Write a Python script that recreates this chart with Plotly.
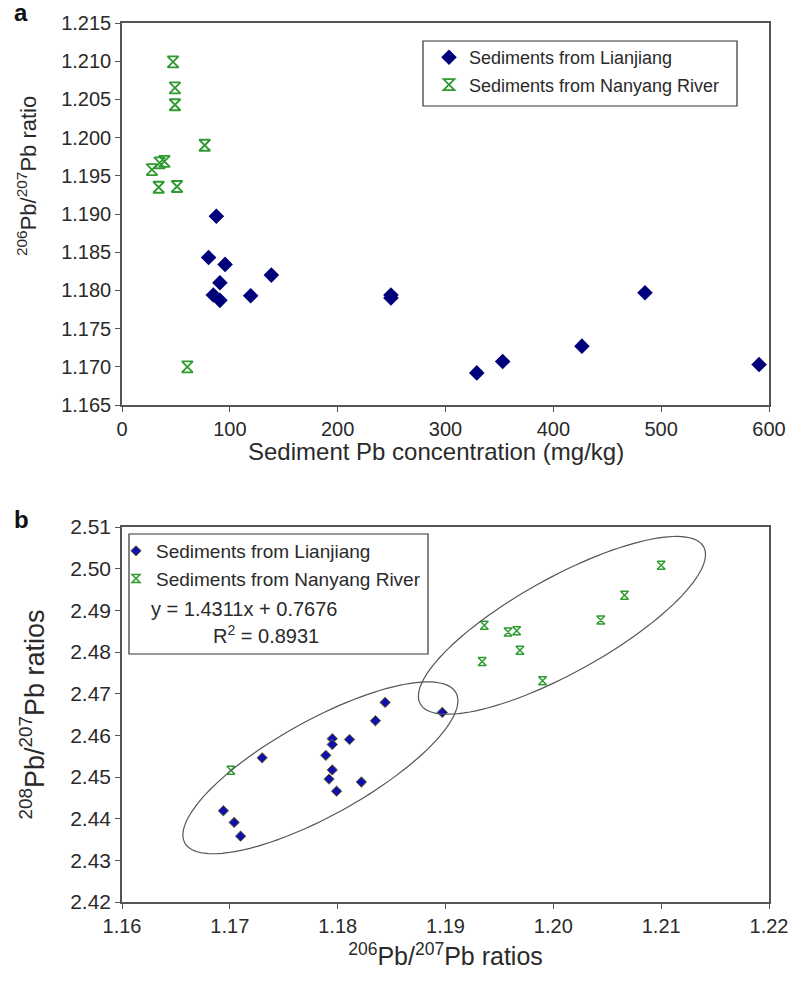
import numpy as np
import plotly.graph_objects as go

# ---------------- Panel a data ----------------
lj_pb = [87.5, 80.3, 95.6, 138.5, 90.8, 84.7, 90.8, 119.3, 249.4, 249.4, 485.0, 426.5, 353.0, 329.0, 590.8]
lj_r206_a = [1.1897, 1.1843, 1.1834, 1.1820, 1.1810, 1.1794, 1.1787, 1.1793, 1.1794, 1.1790,
             1.1797, 1.1727, 1.1707, 1.1692, 1.1703]
ny_pb = [47.3, 49.1, 49.1, 76.7, 27.8, 34.9, 39.3, 34.0, 51.0, 60.6]
ny_r206_a = [1.2099, 1.2065, 1.2043, 1.1990, 1.1958, 1.1967, 1.1969, 1.1935, 1.1936, 1.1700]

# ---------------- Panel b data ----------------
lj_r206_b = [1.1694, 1.1704, 1.1710, 1.1730, 1.1789, 1.1795, 1.1795, 1.1795, 1.1792, 1.1799,
             1.1811, 1.1822, 1.1835, 1.1844, 1.1897]
lj_r208_b = [2.4419, 2.4391, 2.4358, 2.4546, 2.4552, 2.4592, 2.4578, 2.4517, 2.4495, 2.4466,
             2.4590, 2.4488, 2.4635, 2.4679, 2.4655]
ny_r206_b = [1.2100, 1.2066, 1.2044, 1.1936, 1.1958, 1.1966, 1.1969, 1.1934, 1.1990, 1.1701]
ny_r208_b = [2.5008, 2.4936, 2.4877, 2.4864, 2.4848, 2.4851, 2.4804, 2.4777, 2.4731, 2.4516]

series_names = ["Sediments from Lianjiang", "Sediments from Nanyang River"]
equation_text = ["y = 1.4311x + 0.7676", "R<sup>2</sup> = 0.8931"]
axis_titles = ["Sediment Pb concentration (mg/kg)", "<sup>206</sup>Pb/<sup>207</sup>Pb ratio",
               "<sup>206</sup>Pb/<sup>207</sup>Pb ratios", "<sup>208</sup>Pb/<sup>207</sup>Pb ratios"]

# ellipse groups: centre (x, y) in data units, semi-major axis in px
ellipse_centres = [(1.1784, 2.4522), (1.2008, 2.4864)]
ellipse_major_px = [155.0, 162.0]

FONT = "Liberation Sans, Arial, sans-serif"
NAVY = "#00007a"
GREEN = "#2f9a2f"
AXC = "#555555"
TXT = "#2a2a2a"

W, H = 788, 983
ML, MR, MT, MB = 122, 19, 23, 81
plot_w = W - ML - MR
plot_h = H - MT - MB
a_top, a_bot = 23, 405
b_top, b_bot = 527, 902


def pfrac(ypix):
    return (H - MB - ypix) / plot_h


def xfrac(xpix):
    return (xpix - ML) / plot_w


fig = go.Figure()

fig.add_trace(go.Scatter(x=lj_pb, y=lj_r206_a, mode="markers", name=series_names[0],
                         marker=dict(symbol="diamond", size=12, color=NAVY),
                         xaxis="x", yaxis="y", legend="legend", legendgroup="a1"))
fig.add_trace(go.Scatter(x=ny_pb, y=ny_r206_a, mode="markers", name=series_names[1],
                         marker=dict(symbol="hourglass-open", size=11, color=GREEN,
                                     line=dict(width=1.8, color=GREEN)),
                         xaxis="x", yaxis="y", legend="legend", legendgroup="a2"))

fig.add_trace(go.Scatter(x=lj_r206_b, y=lj_r208_b, mode="markers", name=series_names[0],
                         marker=dict(symbol="diamond", size=8, color="#1010b0",
                                     line=dict(width=1, color="#6a6a20")),
                         xaxis="x2", yaxis="y2", legend="legend2", legendgroup="b1"))
fig.add_trace(go.Scatter(x=ny_r206_b, y=ny_r208_b, mode="markers", name=series_names[1],
                         marker=dict(symbol="hourglass-open", size=8, color=GREEN,
                                     line=dict(width=1.5, color=GREEN)),
                         xaxis="x2", yaxis="y2", legend="legend2", legendgroup="b2"))

axis_common = dict(showline=True, linecolor=AXC, linewidth=1.5, mirror=True, ticks="outside",
                   ticklen=5, tickcolor=AXC, showgrid=False, zeroline=False, automargin=False,
                   ticklabeloverflow="allow")

xr_b = [1.16, 1.22]
yr_b = [2.42, 2.51]

fig.update_layout(
    width=W, height=H, margin=dict(l=ML, r=MR, t=MT, b=MB),
    paper_bgcolor="white", plot_bgcolor="white",
    font=dict(family=FONT, color=TXT),
    showlegend=True,
    xaxis=dict(axis_common, range=[0, 600], dtick=100, anchor="y",
               tickfont=dict(family=FONT, size=20, color=TXT)),
    yaxis=dict(axis_common, range=[1.165, 1.215], dtick=0.005, tickformat=".3f", anchor="x",
               domain=[pfrac(a_bot), pfrac(a_top)],
               tickfont=dict(family=FONT, size=20, color=TXT)),
    xaxis2=dict(axis_common, range=xr_b, dtick=0.01, tickformat=".2f", anchor="y2",
                tickfont=dict(family=FONT, size=20, color=TXT),
                title=dict(text=axis_titles[2], font=dict(size=25), standoff=12)),
    yaxis2=dict(axis_common, range=yr_b, dtick=0.01, tickformat=".2f", anchor="x2",
                domain=[pfrac(b_bot), pfrac(b_top)],
                tickfont=dict(family=FONT, size=21, color=TXT),
                title=dict(text=axis_titles[3], font=dict(size=27), standoff=18)),
    legend=dict(x=xfrac(429), y=pfrac(39), xanchor="left", yanchor="top",
                bgcolor="rgba(0,0,0,0)", borderwidth=0, font=dict(size=18, family=FONT, color=TXT),
                traceorder="grouped", tracegroupgap=1),
    legend2=dict(x=xfrac(116), y=pfrac(532), xanchor="left", yanchor="top",
                 bgcolor="rgba(0,0,0,0)", borderwidth=0, font=dict(size=19, family=FONT, color=TXT),
                 traceorder="grouped", tracegroupgap=0),
)

shapes = []
# legend boxes
shapes.append(dict(type="rect", xref="paper", yref="paper",
                   x0=xfrac(423), x1=xfrac(737), y0=pfrac(106), y1=pfrac(41),
                   line=dict(color="#333", width=1.2), fillcolor="rgba(0,0,0,0)"))
shapes.append(dict(type="rect", xref="paper", yref="paper",
                   x0=xfrac(129), x1=xfrac(428), y0=pfrac(654), y1=pfrac(534),
                   line=dict(color="#333", width=1.2), fillcolor="rgba(0,0,0,0)"))

# ellipses (rotated, defined in pixel units)
px_per_x = plot_w / (xr_b[1] - xr_b[0])
px_per_y = (b_bot - b_top) / (yr_b[1] - yr_b[0])
b_px, ang = 47.6, np.deg2rad(29.0)
t = np.linspace(0, 2 * np.pi, 120)
for (cx, cy), a_px in zip(ellipse_centres, ellipse_major_px):
    ex = a_px * np.cos(t) * np.cos(ang) - b_px * np.sin(t) * np.sin(ang)
    ey = a_px * np.cos(t) * np.sin(ang) + b_px * np.sin(t) * np.cos(ang)
    xs = cx + ex / px_per_x
    ys = cy + ey / px_per_y
    path = "M " + " L ".join(f"{x:.6f},{y:.6f}" for x, y in zip(xs, ys)) + " Z"
    shapes.append(dict(type="path", xref="x2", yref="y2", path=path,
                       line=dict(color="#555", width=1.2)))
fig.update_layout(shapes=shapes)

annotations = [
    dict(text="<b>a</b>", x=xfrac(12), y=pfrac(13), showarrow=False,
         font=dict(size=24, family=FONT, color="#111"), xanchor="left", yanchor="middle"),
    dict(text="<b>b</b>", x=xfrac(12), y=pfrac(519), showarrow=False,
         font=dict(size=24, family=FONT, color="#111"), xanchor="left", yanchor="middle"),
    dict(text=axis_titles[0], x=xfrac(436), y=pfrac(451), showarrow=False,
         font=dict(size=24, family=FONT, color=TXT), xanchor="center", yanchor="middle"),
    dict(text=axis_titles[1], x=xfrac(27), y=pfrac(176), showarrow=False, textangle=-90,
         font=dict(size=22, family=FONT, color=TXT), xanchor="center", yanchor="middle"),
    dict(text=equation_text[0], showarrow=False,
         x=xfrac(149), y=pfrac(609), xanchor="left", yanchor="middle",
         font=dict(size=20, family=FONT, color=TXT)),
    dict(text=equation_text[1], showarrow=False,
         x=xfrac(211), y=pfrac(634), xanchor="left", yanchor="middle",
         font=dict(size=20, family=FONT, color=TXT)),
]
annotations = [dict(a, xref="paper", yref="paper") for a in annotations]
fig.update_layout(annotations=annotations)

fig.write_html("out.html", config={"displayModeBar": False},
               post_script="document.body.style.margin='0px';"
                           "document.documentElement.style.overflow='hidden';")
